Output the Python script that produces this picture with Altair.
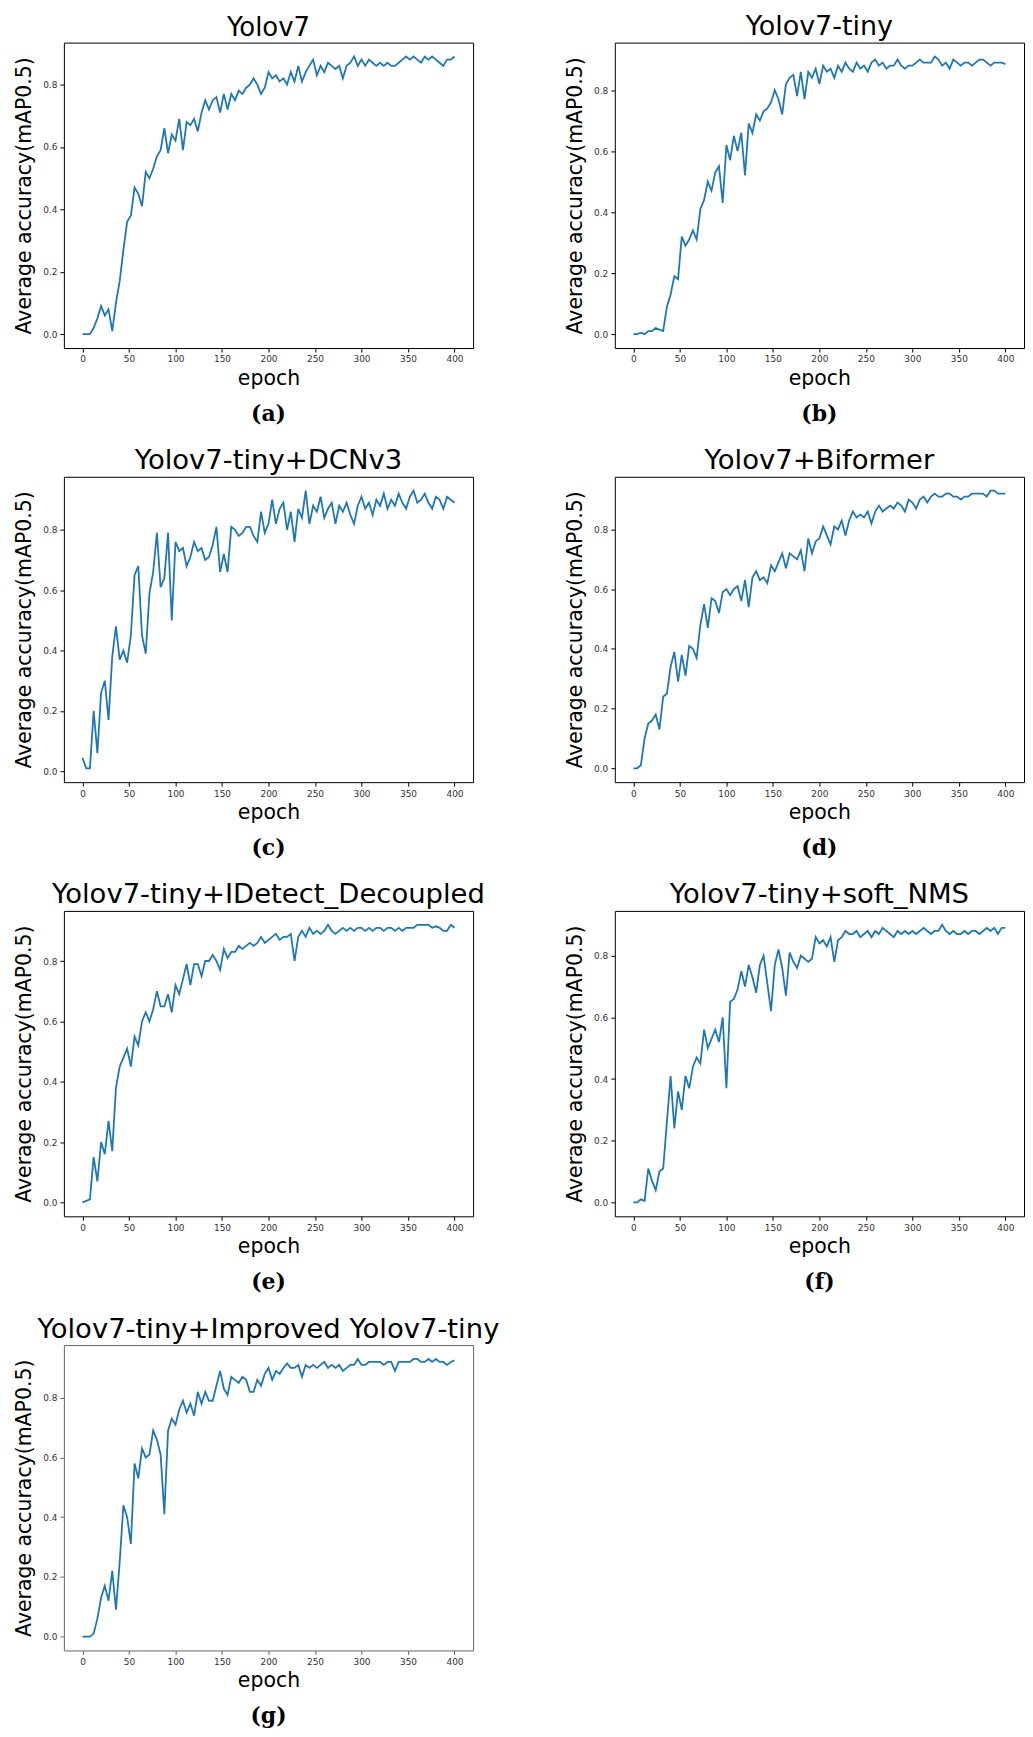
import altair as alt
import pandas as pd

EPOCHS = list(range(0, 401, 4))

TITLES = [
    "Yolov7",
    "Yolov7-tiny",
    "Yolov7-tiny+DCNv3",
    "Yolov7+Biformer",
    "Yolov7-tiny+IDetect_Decoupled",
    "Yolov7-tiny+soft_NMS",
    "Yolov7-tiny+Improved Yolov7-tiny",
]
LABELS = ["(a)", "(b)", "(c)", "(d)", "(e)", "(f)", "(g)"]
TITLE_SIZES = [26, 27, 27.5, 27.5, 27.5, 27.5, 27.5]
FRAME_COLORS = ["black", "black", "black", "black", "black", "black", "#666666"]

X_TICKS = [0, 50, 100, 150, 200, 250, 300, 350, 400]
Y_TICKS = [0.0, 0.2, 0.4, 0.6, 0.8]

yolov7 = [
    0.00, 0.00, 0.00, 0.02, 0.05, 0.09, 0.06, 0.08, 0.01, 0.10,
    0.17, 0.27, 0.36, 0.38, 0.47, 0.45, 0.41, 0.52, 0.50, 0.53,
    0.57, 0.59, 0.66, 0.58, 0.64, 0.62, 0.69, 0.59, 0.68, 0.67,
    0.69, 0.65, 0.71, 0.75, 0.72, 0.75, 0.76, 0.71, 0.77, 0.72,
    0.77, 0.75, 0.78, 0.77, 0.79, 0.80, 0.82, 0.80, 0.77, 0.79,
    0.84, 0.82, 0.83, 0.81, 0.82, 0.80, 0.84, 0.81, 0.86, 0.81,
    0.84, 0.86, 0.88, 0.83, 0.86, 0.84, 0.87, 0.86, 0.85, 0.86,
    0.82, 0.86, 0.87, 0.89, 0.86, 0.88, 0.86, 0.88, 0.87, 0.86,
    0.87, 0.86, 0.87, 0.86, 0.86, 0.87, 0.88, 0.89, 0.88, 0.89,
    0.88, 0.87, 0.89, 0.88, 0.89, 0.88, 0.87, 0.86, 0.88, 0.88,
    0.89,
]

yolov7_tiny = [
    0.00, 0.00, 0.005, 0.00, 0.01, 0.01, 0.02, 0.015, 0.01, 0.09,
    0.13, 0.19, 0.18, 0.32, 0.29, 0.31, 0.34, 0.31, 0.41, 0.44,
    0.50, 0.47, 0.53, 0.55, 0.43, 0.62, 0.57, 0.65, 0.60, 0.66,
    0.52, 0.69, 0.66, 0.72, 0.70, 0.73, 0.74, 0.76, 0.80, 0.77,
    0.72, 0.82, 0.84, 0.85, 0.78, 0.86, 0.77, 0.86, 0.84, 0.87,
    0.82, 0.88, 0.86, 0.87, 0.84, 0.88, 0.86, 0.89, 0.87, 0.86,
    0.89, 0.87, 0.88, 0.86, 0.89, 0.90, 0.88, 0.89, 0.87, 0.88,
    0.88, 0.90, 0.88, 0.87, 0.88, 0.88, 0.89, 0.90, 0.89, 0.89,
    0.89, 0.91, 0.90, 0.88, 0.89, 0.87, 0.90, 0.89, 0.88, 0.89,
    0.89, 0.88, 0.89, 0.90, 0.90, 0.89, 0.88, 0.89, 0.89, 0.89,
    0.885,
]

tiny_dcnv3 = [
    0.045, 0.01, 0.01, 0.20, 0.06, 0.26, 0.30, 0.17, 0.38, 0.48,
    0.37, 0.40, 0.36, 0.45, 0.65, 0.68, 0.45, 0.39, 0.59, 0.66,
    0.79, 0.61, 0.64, 0.79, 0.50, 0.76, 0.73, 0.74, 0.68, 0.71,
    0.76, 0.73, 0.74, 0.70, 0.71, 0.75, 0.81, 0.66, 0.72, 0.66,
    0.81, 0.80, 0.78, 0.79, 0.81, 0.81, 0.78, 0.76, 0.86, 0.79,
    0.82, 0.90, 0.82, 0.87, 0.89, 0.80, 0.86, 0.76, 0.87, 0.84,
    0.93, 0.82, 0.88, 0.86, 0.91, 0.84, 0.87, 0.89, 0.82, 0.88,
    0.86, 0.89, 0.85, 0.82, 0.88, 0.91, 0.87, 0.89, 0.85, 0.90,
    0.88, 0.92, 0.87, 0.90, 0.88, 0.92, 0.89, 0.87, 0.91, 0.93,
    0.89, 0.90, 0.92, 0.89, 0.87, 0.91, 0.90, 0.87, 0.91, 0.90,
    0.89,
]

biformer = [
    0.00, 0.00, 0.01, 0.10, 0.15, 0.16, 0.18, 0.13, 0.24, 0.25,
    0.34, 0.39, 0.29, 0.38, 0.31, 0.41, 0.40, 0.37, 0.48, 0.55,
    0.47, 0.57, 0.56, 0.52, 0.59, 0.60, 0.58, 0.60, 0.61, 0.56,
    0.63, 0.54, 0.64, 0.66, 0.63, 0.64, 0.62, 0.68, 0.66, 0.69,
    0.72, 0.67, 0.72, 0.71, 0.70, 0.73, 0.66, 0.77, 0.72, 0.76,
    0.77, 0.81, 0.78, 0.75, 0.81, 0.80, 0.83, 0.78, 0.83, 0.86,
    0.84, 0.85, 0.84, 0.86, 0.82, 0.86, 0.88, 0.86, 0.87, 0.88,
    0.87, 0.89, 0.88, 0.86, 0.90, 0.89, 0.87, 0.90, 0.91, 0.89,
    0.91, 0.92, 0.91, 0.91, 0.92, 0.92, 0.91, 0.91, 0.90, 0.91,
    0.91, 0.92, 0.92, 0.92, 0.92, 0.91, 0.93, 0.93, 0.92, 0.92,
    0.92,
]

idetect_decoupled = [
    0.00, 0.005, 0.01, 0.15, 0.07, 0.20, 0.16, 0.27, 0.17, 0.38,
    0.45, 0.48, 0.51, 0.45, 0.55, 0.52, 0.60, 0.63, 0.60, 0.64,
    0.70, 0.65, 0.65, 0.69, 0.63, 0.72, 0.69, 0.74, 0.79, 0.72,
    0.79, 0.79, 0.75, 0.80, 0.80, 0.82, 0.80, 0.77, 0.84, 0.81,
    0.83, 0.83, 0.85, 0.84, 0.85, 0.86, 0.85, 0.86, 0.88, 0.86,
    0.87, 0.88, 0.89, 0.87, 0.88, 0.88, 0.89, 0.80, 0.88, 0.90,
    0.88, 0.91, 0.89, 0.90, 0.89, 0.90, 0.92, 0.90, 0.89, 0.90,
    0.91, 0.90, 0.91, 0.90, 0.91, 0.91, 0.90, 0.91, 0.90, 0.91,
    0.91, 0.90, 0.91, 0.91, 0.90, 0.91, 0.90, 0.91, 0.91, 0.91,
    0.92, 0.92, 0.92, 0.92, 0.91, 0.915, 0.91, 0.90, 0.90, 0.92,
    0.91,
]

soft_nms = [
    0.00, 0.00, 0.01, 0.005, 0.11, 0.07, 0.04, 0.10, 0.11, 0.26,
    0.41, 0.24, 0.36, 0.30, 0.41, 0.37, 0.44, 0.47, 0.45, 0.56,
    0.50, 0.53, 0.56, 0.52, 0.60, 0.37, 0.65, 0.66, 0.69, 0.75,
    0.70, 0.77, 0.73, 0.68, 0.77, 0.80, 0.71, 0.62, 0.77, 0.82,
    0.76, 0.67, 0.81, 0.78, 0.76, 0.80, 0.79, 0.78, 0.79, 0.86,
    0.84, 0.85, 0.83, 0.86, 0.78, 0.85, 0.86, 0.88, 0.87, 0.87,
    0.88, 0.86, 0.87, 0.88, 0.86, 0.88, 0.87, 0.89, 0.88, 0.87,
    0.86, 0.88, 0.87, 0.88, 0.87, 0.88, 0.87, 0.88, 0.89, 0.88,
    0.87, 0.88, 0.88, 0.90, 0.88, 0.87, 0.88, 0.87, 0.87, 0.88,
    0.87, 0.88, 0.88, 0.87, 0.88, 0.89, 0.88, 0.89, 0.87, 0.89,
    0.89,
]

improved = [
    0.00, 0.00, 0.00, 0.01, 0.06, 0.13, 0.17, 0.12, 0.22, 0.09,
    0.25, 0.44, 0.40, 0.31, 0.58, 0.53, 0.63, 0.60, 0.61, 0.69,
    0.66, 0.61, 0.41, 0.69, 0.73, 0.71, 0.76, 0.79, 0.75, 0.78,
    0.74, 0.82, 0.78, 0.82, 0.79, 0.79, 0.84, 0.89, 0.83, 0.81,
    0.87, 0.86, 0.85, 0.87, 0.86, 0.82, 0.82, 0.86, 0.84, 0.88,
    0.90, 0.86, 0.89, 0.88, 0.90, 0.915, 0.90, 0.90, 0.91, 0.87,
    0.91, 0.90, 0.91, 0.90, 0.91, 0.92, 0.90, 0.91, 0.90, 0.91,
    0.89, 0.90, 0.91, 0.91, 0.93, 0.91, 0.91, 0.92, 0.92, 0.92,
    0.92, 0.91, 0.92, 0.92, 0.89, 0.92, 0.92, 0.92, 0.92, 0.93,
    0.93, 0.92, 0.92, 0.93, 0.92, 0.93, 0.92, 0.92, 0.91, 0.92,
    0.925,
]

SERIES = [yolov7, yolov7_tiny, tiny_dcnv3, biformer, idetect_decoupled, soft_nms, improved]

W, H = 410, 306
LINE_COLOR = "#1f77b4"


def panel(title, label, values, title_size, frame_color):
    df = pd.DataFrame({"epoch": EPOCHS[: len(values)], "map": values})
    lo, hi = min(values), max(values)
    pad = 0.05 * (hi - lo)
    line = alt.Chart(df).mark_line(color=LINE_COLOR, strokeWidth=1.8).encode(
        x=alt.X(
            "epoch:Q",
            scale=alt.Scale(domain=[-20, 420], nice=False, zero=False),
            axis=alt.Axis(values=X_TICKS, title="epoch", format="d", tickColor=frame_color),
        ),
        y=alt.Y(
            "map:Q",
            scale=alt.Scale(domain=[lo - pad, hi + pad], nice=False, zero=False),
            axis=alt.Axis(values=Y_TICKS, format=".1f", title="Average accuracy(mAP0.5)", tickColor=frame_color),
        ),
    )
    lab = alt.Chart(pd.DataFrame({"t": [label]})).mark_text(
        font="DejaVu Serif", fontSize=22, fontWeight="bold", baseline="middle", align="center", color="black"
    ).encode(text="t:N", x=alt.value(W / 2), y=alt.value(H + 66))
    return alt.layer(line, lab).properties(
        width=W,
        height=H,
        view=alt.ViewBackground(stroke=frame_color, strokeWidth=1),
        title=alt.Title(title, fontSize=title_size, font="DejaVu Sans", fontWeight="normal", offset=2, color="black"),
    )


panels = [
    panel(t, l, v, s, c)
    for t, l, v, s, c in zip(TITLES, LABELS, SERIES, TITLE_SIZES, FRAME_COLORS)
]

chart = (
    alt.concat(*panels, columns=2, spacing={"row": 129, "column": 142}, bounds="flush")
    .properties(padding={"left": 6, "top": 2, "right": 0, "bottom": 0})
    .configure_view(stroke="black", strokeWidth=1)
    .configure_axis(
        domain=False,
        grid=False,
        tickSize=4,
        labelFontSize=9,
        labelColor="#333333",
        labelFont="DejaVu Sans",
        titleFont="DejaVu Sans",
        titleFontSize=20.5,
        titleFontWeight="normal",
        titleColor="black",
    )
    .configure_axisX(titlePadding=4.5, labelPadding=3)
    .configure_axisY(titlePadding=8, labelPadding=3)
    .configure_title(anchor="middle")
)

chart.save("out.html", embed_options={"renderer": "svg", "actions": False})
